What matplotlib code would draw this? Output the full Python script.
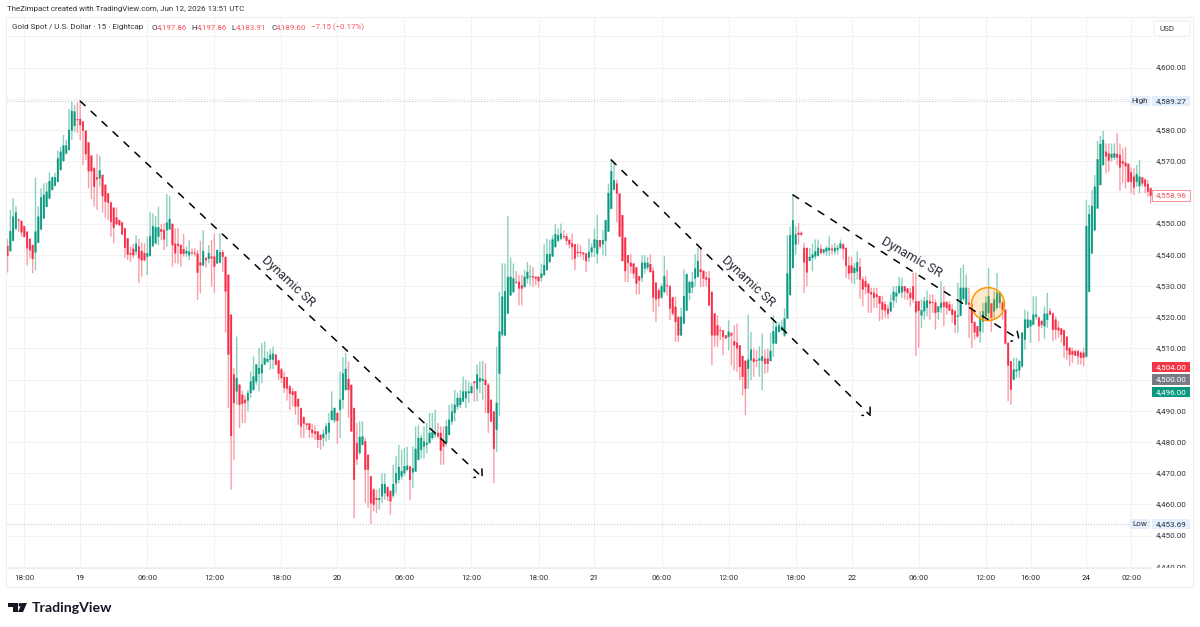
import numpy as np
import matplotlib
matplotlib.use("Agg")
import matplotlib.pyplot as plt
from matplotlib.patches import Ellipse, Polygon, Rectangle, Circle, FancyBboxPatch

# 15-minute gold candles, in bar order
opens = [
4542.8,4541.2,4544.5,4548.4,4551.2,4550.8,4549.2,4547.4,4545.1,4543.1,
4540.8,4543.9,4548.2,4551.7,4555.4,4558.1,4560.8,4562.1,4563.4,4567.2,
4570.1,4572.5,4573.6,4579.8,4581.3,4583.4,4583.5,4582.7,4579.8,4576.0,
4571.8,4567.7,4564.8,4564.5,4565.6,4562.4,4559.7,4556.7,4555.1,4551.9,
4551.1,4550.4,4548.5,4545.3,4540.5,4541.9,4541.0,4542.6,4541.2,4540.5,
4539.4,4539.7,4542.8,4543.7,4545.8,4548.2,4547.9,4547.9,4548.2,4549.9,
4543.5,4543.5,4543.1,4541.8,4540.5,4539.9,4540.7,4540.6,4540.3,4537.5,
4536.7,4538.9,4538.7,4539.4,4539.4,4537.3,4537.5,4540.8,4539.3,4533.6,
4520.8,4501.6,4496.2,4498.3,4495.1,4493.5,4493.3,4495.7,4496.7,4499.4,
4501.9,4502.1,4504.8,4505.8,4506.4,4506.4,4508.0,4506.1,4503.2,4500.8,
4500.8,4497.8,4496.2,4496.2,4493.8,4490.9,4487.9,4485.9,4485.9,4483.9,
4483.4,4483.4,4482.3,4481.3,4482.6,4483.1,4487.1,4486.9,4489.3,4490.3,
4493.5,4496.7,4500.2,4498.3,4490.9,4479.7,4476.5,4479.1,4480.2,4475.9,
4469.0,4464.7,4462.0,4461.5,4462.6,4463.6,4465.5,4464.2,4462.8,4466.8,
4467.9,4469.0,4470.0,4471.1,4472.2,4470.3,4470.6,4474.3,4477.5,4478.6,
4479.1,4479.7,4481.3,4482.3,4482.9,4482.9,4480.2,4479.7,4482.3,4486.6,
4489.3,4491.4,4491.9,4493.0,4494.1,4495.7,4495.7,4499.4,4497.0,4499.4,
4499.6,4499.9,4498.3,4493.5,4489.8,4483.9,4501.9,4514.4,4514.2,4521.2,
4527.0,4528.1,4531.3,4531.3,4530.2,4529.7,4532.4,4532.9,4533.1,4532.9,
4532.9,4532.7,4533.5,4535.1,4537.7,4539.5,4542.5,4544.5,4545.2,4545.9,
4545.9,4544.7,4543.6,4543.4,4540.9,4540.9,4540.6,4540.4,4539.1,4540.9,
4542.3,4540.4,4544.7,4543.4,4544.5,4547.5,4554.8,4560.9,4562.8,4559.6,
4552.7,4545.5,4539.9,4537.4,4537.2,4535.9,4533.1,4532.6,4535.6,4535.9,
4537.0,4534.8,4531.0,4528.6,4526.3,4528.1,4530.2,4529.9,4526.3,4523.3,
4520.1,4514.2,4518.0,4522.2,4527.8,4529.5,4532.4,4532.9,4535.3,4534.8,
4532.7,4532.4,4528.1,4521.2,4517.4,4515.8,4515.8,4514.2,4513.7,4514.8,
4512.3,4511.8,4511.0,4507.5,4506.0,4503.5,4506.2,4506.7,4506.2,4506.2,
4506.0,4506.7,4506.7,4506.0,4511.6,4511.6,4515.3,4515.8,4514.2,4519.6,
4527.1,4535.8,4543.3,4547.0,4547.0,4542.2,4542.2,4538.1,4539.0,4539.5,
4539.7,4541.9,4540.8,4541.1,4541.5,4541.9,4541.1,4541.7,4542.2,4543.3,
4542.2,4536.5,4536.5,4534.2,4534.7,4536.1,4532.1,4531.5,4530.5,4528.0,
4527.8,4527.3,4526.7,4524.8,4524.1,4522.7,4521.9,4525.4,4526.7,4527.8,
4528.0,4529.9,4529.1,4527.8,4529.9,4525.1,4525.1,4520.6,4521.9,4523.0,
4525.1,4524.8,4524.6,4521.7,4523.0,4524.8,4524.8,4524.1,4522.4,4521.9,
4520.1,4520.5,4525.9,4524.1,4524.6,4524.1,4518.4,4517.1,4515.5,4518.7,
4520.3,4521.4,4524.4,4521.9,4523.0,4524.6,4524.6,4522.4,4511.8,4505.9,
4500.0,4502.7,4503.0,4504.3,4512.8,4516.6,4517.1,4517.6,4520.1,4519.8,
4518.7,4517.1,4519.2,4521.9,4521.2,4519.2,4516.6,4516.3,4515.8,4513.7,
4510.2,4509.1,4509.1,4509.1,4508.6,4508.6,4507.4,4528.2,4540.5,4547.9,
4554.9,4562.4,4568.8,4573.0,4572.5,4571.1,4571.2,4572.3,4572.0,4570.0,
4569.5,4569.1,4566.4,4565.0,4563.4,4562.0,4564.8,4564.0,4562.7,4561.3]

highs = [
4545.0,4554.4,4558.1,4555.6,4551.7,4551.0,4549.2,4547.4,4545.1,4543.3,
4564.8,4555.6,4561.3,4562.9,4563.1,4566.4,4565.0,4566.3,4573.4,4574.6,
4578.4,4576.8,4586.7,4589.1,4588.0,4588.8,4589.27,4582.7,4579.8,4576.0,
4571.8,4568.2,4572.3,4571.8,4565.6,4562.4,4559.7,4557.0,4555.1,4555.2,
4551.3,4550.6,4548.5,4545.3,4542.6,4543.5,4546.3,4545.1,4544.0,4543.7,
4545.8,4553.8,4553.3,4552.4,4555.4,4549.9,4550.1,4559.5,4558.8,4549.9,
4548.5,4548.5,4543.5,4546.7,4542.6,4544.7,4542.1,4542.1,4541.5,4544.5,
4547.9,4539.4,4543.1,4544.7,4546.7,4541.7,4546.9,4541.5,4539.4,4533.6,
4520.8,4503.7,4513.8,4498.6,4496.4,4495.1,4496.7,4502.6,4507.4,4505.0,
4510.1,4511.7,4512.2,4509.0,4509.8,4510.6,4508.0,4506.4,4503.7,4502.6,
4500.8,4498.3,4497.3,4496.2,4493.8,4490.9,4488.2,4486.1,4486.1,4485.9,
4485.5,4483.4,4482.3,4484.1,4486.1,4489.3,4496.2,4491.0,4489.3,4502.6,
4507.2,4508.5,4505.8,4498.3,4490.9,4486.1,4486.6,4486.6,4481.3,4475.9,
4469.0,4465.2,4464.7,4465.2,4470.0,4470.0,4465.8,4464.7,4472.7,4475.4,
4479.1,4477.5,4478.1,4478.4,4472.2,4478.6,4485.0,4485.5,4482.3,4485.0,
4486.1,4489.3,4489.3,4490.3,4486.1,4485.0,4485.0,4487.1,4491.9,4492.3,
4496.7,4495.7,4496.7,4501.0,4499.9,4499.4,4498.9,4499.4,4504.8,4505.8,
4506.0,4505.3,4498.9,4493.5,4489.8,4510.6,4528.2,4537.3,4537.2,4552.4,
4539.1,4537.2,4534.8,4533.5,4533.5,4535.1,4537.7,4536.7,4536.1,4533.1,
4533.1,4537.2,4543.3,4545.2,4544.9,4546.3,4549.8,4548.4,4550.0,4547.9,
4546.8,4545.2,4546.8,4543.4,4543.6,4543.1,4540.9,4540.4,4545.2,4543.6,
4548.4,4552.9,4544.7,4547.9,4551.3,4562.8,4570.8,4569.8,4564.1,4559.6,
4552.7,4545.5,4539.9,4540.2,4537.2,4536.1,4533.1,4539.9,4539.9,4539.3,
4540.2,4535.9,4531.3,4529.2,4530.8,4539.5,4535.1,4530.2,4526.5,4526.5,
4520.1,4523.1,4535.3,4534.0,4531.5,4534.5,4540.2,4542.3,4542.5,4535.1,
4534.5,4534.8,4528.1,4521.2,4520.6,4516.9,4515.8,4514.2,4519.0,4515.3,
4517.4,4518.0,4511.0,4507.8,4506.2,4520.8,4515.3,4510.0,4509.4,4510.7,
4514.8,4509.6,4510.0,4515.0,4520.6,4518.5,4518.5,4519.0,4522.8,4546.2,
4549.0,4559.3,4549.1,4550.2,4547.5,4543.8,4542.2,4542.2,4543.6,4544.9,
4544.9,4543.3,4541.9,4542.7,4545.9,4543.3,4543.8,4543.3,4544.9,4543.8,
4542.2,4539.5,4539.3,4537.4,4541.1,4539.0,4533.1,4533.1,4531.0,4529.4,
4529.4,4529.4,4526.9,4526.9,4525.1,4524.1,4527.3,4529.9,4530.1,4532.9,
4532.6,4529.9,4529.4,4529.4,4534.2,4534.2,4525.1,4525.7,4526.5,4528.6,
4527.3,4527.3,4525.7,4523.5,4531.5,4529.9,4525.1,4525.1,4524.1,4522.4,
4531.0,4535.8,4536.9,4533.7,4529.4,4524.6,4518.7,4517.1,4521.9,4524.6,
4526.7,4535.8,4524.6,4528.3,4534.2,4528.3,4525.4,4522.4,4511.8,4505.9,
4507.0,4507.0,4506.4,4515.2,4522.4,4521.9,4519.3,4526.7,4526.7,4520.3,
4519.2,4523.5,4527.8,4523.0,4521.4,4520.3,4518.7,4516.6,4516.0,4513.9,
4510.2,4510.2,4509.6,4509.6,4509.1,4510.2,4557.6,4556.0,4560.8,4565.6,
4576.5,4578.1,4579.7,4575.7,4575.7,4575.7,4575.7,4579.1,4575.7,4574.1,
4574.6,4569.3,4568.0,4567.7,4568.8,4570.4,4565.0,4564.5,4564.0,4561.6]

lows = [
4534.3,4541.0,4544.3,4547.9,4547.4,4545.8,4545.5,4536.5,4538.9,4534.1,
4535.1,4543.7,4547.9,4551.5,4555.2,4557.8,4560.6,4562.0,4563.2,4567.0,
4569.8,4572.2,4573.4,4576.8,4579.4,4579.1,4576.8,4568.8,4570.4,4561.3,
4557.9,4555.4,4554.4,4561.8,4553.5,4551.7,4551.1,4545.8,4543.7,4549.5,
4549.3,4546.3,4538.9,4538.3,4537.8,4538.9,4539.9,4530.9,4533.0,4537.8,
4533.5,4539.4,4542.6,4543.4,4543.1,4544.7,4541.5,4542.6,4547.9,4536.2,
4537.3,4537.1,4536.2,4539.4,4539.4,4538.3,4539.9,4539.4,4525.5,4527.7,
4536.2,4535.9,4537.3,4529.8,4527.7,4537.1,4537.3,4534.6,4515.1,4490.9,
4464.7,4474.3,4491.9,4484.5,4486.1,4486.1,4489.8,4494.1,4496.5,4498.3,
4496.2,4498.9,4504.6,4505.3,4503.2,4503.4,4504.6,4499.9,4498.9,4495.7,
4493.3,4490.3,4491.4,4488.7,4485.5,4481.3,4481.3,4483.9,4481.3,4481.3,
4480.7,4478.1,4477.5,4478.6,4480.2,4480.7,4486.9,4486.1,4479.4,4481.3,
4490.6,4496.5,4487.7,4483.4,4455.6,4472.7,4475.9,4478.9,4460.4,4458.8,
4453.69,4457.8,4457.2,4458.3,4460.4,4461.5,4461.0,4456.7,4462.0,4463.6,
4466.8,4467.9,4469.0,4470.6,4461.3,4465.2,4470.4,4474.1,4474.8,4474.8,
4476.5,4479.5,4480.7,4481.3,4481.3,4472.7,4472.7,4478.6,4482.1,4485.5,
4486.6,4490.3,4490.9,4492.8,4490.9,4492.5,4495.5,4493.0,4493.0,4495.7,
4493.5,4489.3,4482.9,4486.4,4466.8,4476.8,4488.2,4513.8,4514.0,4521.0,
4526.8,4527.6,4530.6,4523.8,4523.8,4529.5,4530.8,4530.2,4529.7,4530.2,
4529.5,4531.3,4533.3,4534.9,4537.5,4539.3,4542.3,4544.1,4544.7,4545.2,
4543.1,4542.0,4538.3,4535.1,4539.3,4539.3,4538.3,4534.5,4537.7,4539.3,
4539.3,4537.2,4542.0,4539.9,4539.5,4547.3,4554.6,4560.7,4550.5,4545.7,
4538.0,4531.3,4531.3,4534.0,4532.4,4527.3,4527.3,4531.3,4534.0,4535.1,
4534.3,4521.7,4518.5,4523.3,4526.0,4527.6,4527.0,4519.0,4520.6,4512.1,
4512.1,4514.0,4517.8,4522.0,4525.4,4527.6,4529.7,4532.7,4529.7,4529.7,
4529.9,4523.6,4504.6,4510.5,4510.5,4512.6,4507.8,4513.2,4509.4,4504.6,
4503.0,4502.5,4499.8,4495.0,4488.6,4497.1,4499.8,4500.9,4504.1,4500.9,
4496.6,4501.9,4502.2,4505.8,4507.3,4511.4,4515.1,4515.6,4513.7,4519.4,
4527.0,4535.6,4540.1,4543.3,4546.0,4527.8,4529.9,4537.9,4534.7,4538.5,
4539.5,4540.1,4540.1,4539.7,4539.7,4540.1,4540.1,4540.1,4541.7,4538.5,
4532.6,4532.1,4531.0,4530.5,4532.1,4525.9,4523.5,4527.3,4521.4,4521.4,
4523.0,4523.0,4518.7,4519.2,4519.8,4519.5,4521.7,4523.0,4524.6,4527.3,
4526.2,4525.7,4525.4,4523.5,4524.6,4507.5,4510.2,4516.6,4519.2,4520.3,
4519.2,4521.4,4516.0,4519.2,4521.4,4517.1,4520.8,4521.9,4518.2,4515.0,
4515.0,4520.3,4525.1,4523.9,4513.4,4510.2,4512.8,4513.4,4511.8,4515.0,
4520.1,4519.2,4515.2,4519.2,4522.4,4523.0,4519.2,4511.2,4493.1,4491.9,
4499.8,4500.6,4500.6,4503.8,4509.6,4516.4,4511.8,4517.4,4519.2,4512.3,
4516.6,4513.1,4516.6,4520.8,4512.3,4512.8,4513.4,4511.8,4507.0,4506.4,
4504.3,4505.4,4507.5,4504.8,4504.8,4504.3,4507.0,4528.0,4540.3,4547.7,
4554.7,4562.2,4568.6,4566.1,4566.6,4569.8,4570.4,4568.8,4560.5,4562.9,
4561.3,4563.2,4559.7,4559.2,4561.8,4559.7,4562.0,4559.7,4558.6,4556.5]

closes = [
4539.7,4547.6,4552.2,4553.6,4550.9,4547.2,4545.8,4542.1,4541.5,4538.7,
4547.4,4552.2,4558.4,4559.2,4560.2,4563.6,4564.8,4564.8,4570.9,4573.0,
4575.0,4575.0,4580.0,4586.1,4585.9,4583.2,4581.6,4579.8,4572.3,4566.8,
4566.8,4561.8,4564.2,4567.0,4558.8,4557.0,4556.7,4550.6,4548.7,4549.8,
4549.5,4546.6,4542.3,4540.1,4540.1,4539.9,4543.5,4538.9,4538.3,4538.3,
4540.5,4546.0,4549.2,4548.8,4548.8,4547.4,4545.0,4550.3,4551.4,4543.1,
4540.5,4542.9,4540.3,4540.3,4541.2,4541.0,4540.5,4540.4,4534.3,4536.6,
4541.2,4538.3,4540.5,4538.9,4536.2,4541.5,4540.8,4539.4,4528.3,4508.0,
4482.0,4492.5,4500.5,4491.9,4492.3,4492.5,4495.7,4499.4,4501.0,4504.8,
4503.7,4504.8,4506.9,4506.6,4508.0,4508.3,4504.8,4501.9,4500.5,4497.3,
4497.1,4495.5,4495.1,4491.4,4491.4,4485.0,4485.9,4485.5,4483.9,4482.9,
4482.6,4480.7,4480.7,4482.6,4485.0,4486.1,4490.0,4490.9,4486.8,4493.5,
4501.9,4503.4,4496.7,4483.4,4467.9,4474.5,4481.6,4481.8,4471.1,4471.1,
4460.4,4459.9,4461.5,4462.0,4466.5,4466.5,4462.6,4461.0,4466.5,4470.0,
4472.0,4470.6,4472.2,4472.4,4467.9,4471.6,4477.8,4481.3,4481.3,4480.2,
4479.7,4482.9,4483.1,4483.1,4481.8,4477.2,4478.6,4485.0,4487.1,4489.8,
4491.9,4494.1,4494.1,4496.2,4496.2,4496.2,4497.8,4498.9,4501.6,4500.5,
4500.2,4498.3,4489.3,4486.6,4477.8,4492.5,4515.4,4526.6,4528.3,4532.9,
4532.9,4532.4,4531.1,4529.2,4529.2,4532.9,4534.5,4533.1,4532.7,4532.4,
4531.6,4534.0,4536.7,4540.2,4540.2,4544.9,4546.6,4546.3,4546.8,4545.7,
4544.5,4543.4,4542.5,4538.8,4540.6,4540.6,4540.2,4538.0,4540.9,4542.3,
4544.9,4544.7,4542.7,4544.7,4551.1,4559.8,4566.8,4563.9,4559.6,4545.9,
4538.0,4534.8,4537.4,4536.3,4534.0,4530.8,4531.8,4537.4,4537.4,4537.4,
4534.5,4526.3,4525.8,4526.0,4529.9,4533.1,4530.0,4522.8,4521.2,4518.5,
4514.2,4520.1,4526.7,4533.8,4531.3,4531.3,4535.6,4538.0,4534.5,4532.4,
4532.1,4523.8,4514.2,4514.2,4514.2,4515.6,4513.7,4513.2,4515.3,4514.2,
4511.0,4510.0,4504.1,4500.9,4497.1,4506.4,4509.6,4505.7,4506.0,4506.7,
4507.5,4505.1,4505.1,4509.2,4515.5,4516.9,4517.4,4516.9,4519.6,4534.0,
4546.3,4551.1,4546.5,4546.5,4546.5,4537.6,4534.4,4539.3,4540.1,4541.1,
4542.2,4540.6,4541.7,4542.2,4542.2,4541.5,4542.2,4542.2,4543.6,4541.9,
4536.5,4534.0,4534.2,4535.8,4537.6,4532.1,4528.9,4529.7,4527.8,4527.3,
4526.2,4526.5,4524.4,4522.4,4522.2,4521.1,4524.8,4528.1,4527.8,4529.9,
4529.9,4528.3,4527.8,4526.2,4525.7,4521.6,4522.1,4522.2,4525.1,4525.4,
4524.4,4524.6,4521.4,4523.5,4524.6,4523.3,4523.0,4522.2,4520.8,4517.6,
4520.5,4529.4,4529.4,4529.4,4524.1,4518.2,4515.2,4513.9,4519.8,4521.9,
4524.6,4526.7,4519.8,4525.7,4527.8,4527.8,4522.4,4511.6,4504.5,4496.8,
4503.2,4503.2,4505.9,4515.0,4519.2,4519.2,4519.0,4520.8,4520.8,4517.1,
4517.6,4521.1,4521.1,4520.8,4516.0,4516.0,4515.8,4514.4,4510.9,4509.4,
4508.0,4508.0,4507.7,4507.5,4507.0,4507.0,4549.2,4553.0,4555.6,4561.8,
4570.6,4575.5,4576.8,4571.6,4570.2,4572.3,4572.5,4571.2,4568.0,4569.3,
4568.4,4563.4,4563.4,4561.6,4565.8,4565.0,4562.9,4562.0,4560.2,4558.96]

# Time axis: bar index and label
time_ticks = [6, 26, 50, 74, 98, 118, 142, 166, 190, 210, 234, 258, 282, 302,
              326, 350, 366, 386, 402]
time_labels = ["18:00", "19", "06:00", "12:00", "18:00", "20", "06:00", "12:00",
               "18:00", "21", "06:00", "12:00", "18:00", "22", "06:00", "12:00",
               "16:00", "24", "02:00"]

price_ticks = [4600, 4590, 4580, 4570, 4560, 4550, 4540, 4530, 4520, 4510, 4490,
               4480, 4470, 4460, 4450, 4440]
grid_prices = list(range(4440, 4620, 10))

high_price = 4589.27
low_price = 4453.69
last_price = 4558.96

# Drawn trend arrows: (start bar, start price, end bar, end price)
trend_arrows = [(26, 4589.27, 170.1, 4468.5),
                (216, 4570.4, 308.9, 4488.3),
                (281, 4559.2, 362.2, 4512.7)]
trend_notes = [(100.3, 4531.6, -43), (265.0, 4531.6, -43), (323.6, 4539.3, -30)]

UP = "#089981"
DOWN = "#f92a45"
UP_WICK = "#8ad0bc"
DOWN_WICK = "#f99ea9"
GRID = "#f1f2f4"
FRAME = "#eceef0"
TEXT = "#2f323b"
FONT = "Roboto"
SMALL = 5.8

W, H = 1200, 627
plt.rcParams["font.family"] = [FONT, "DejaVu Sans"]
fig = plt.figure(figsize=(W / 100, H / 100), dpi=100, facecolor="white")


def px_rect(x0, y0, x1, y1):
    return [x0 / W, 1 - y1 / H, (x1 - x0) / W, (y1 - y0) / H]


def fx(x):
    return x / W


def fy(y):
    return 1 - y / H


BAR_PX = 2.795
PRICE_PX = 3.12
LEFT, RIGHT, TOP, BOTTOM = 6.5, 1151.5, 17.0, 568.0
ylim = (4580 - (BOTTOM - 130) / PRICE_PX, 4580 + (130 - TOP) / PRICE_PX)
xlim = ((LEFT - 7.53) / BAR_PX, (RIGHT - 7.53) / BAR_PX)

ax = fig.add_axes(px_rect(LEFT, TOP, RIGHT, BOTTOM))
ax.set_xlim(xlim)
ax.set_ylim(ylim)
for s in ax.spines.values():
    s.set_visible(False)
ax.tick_params(left=False, bottom=False, labelleft=False, labelbottom=False)
ax.set_xticks(time_ticks)
ax.set_yticks(grid_prices)
ax.grid(True, color=GRID, lw=0.75)
ax.set_axisbelow(True)

o = np.array(opens)
h = np.array(highs)
l = np.array(lows)
c = np.array(closes)
k = np.arange(len(c))
rising = c >= o

ax.vlines(k[rising], l[rising], h[rising], color=UP_WICK, lw=1.0, zorder=2, snap=False)
ax.vlines(k[~rising], l[~rising], h[~rising], color=DOWN_WICK, lw=1.0, zorder=2, snap=False)
ax.bar(k[rising], (c - o)[rising], bottom=o[rising], width=0.6,
       color=UP, edgecolor=UP, linewidth=0.2, zorder=3, snap=False)
ax.bar(k[~rising], (o - c)[~rising], bottom=c[~rising], width=0.6,
       color=DOWN, edgecolor=DOWN, linewidth=0.2, zorder=3, snap=False)

# High and low of the visible range
ax.plot([xlim[0], (1130 - 7.53) / BAR_PX], [high_price, high_price],
        color="#c4c6cc", lw=0.8, ls=(0, (1, 1.6)), zorder=1)
ax.plot([xlim[0], (1130 - 7.53) / BAR_PX], [low_price, low_price],
        color="#c4c6cc", lw=0.8, ls=(0, (1, 1.6)), zorder=1)

# Dashed trend arrows and their notes
DASH = (0, (4.4, 5.4))
for x0, y0, x1, y1 in trend_arrows:
    ax.annotate("", xy=(x1, y1), xytext=(x0, y0), zorder=5,
                arrowprops=dict(arrowstyle="->,head_length=0.42,head_width=0.42",
                                color="black", lw=1.1, ls=DASH,
                                shrinkA=0, shrinkB=0, mutation_scale=10))
for x, y, ang in trend_notes:
    ax.text(x, y, "Dynamic SR", rotation=ang, rotation_mode="anchor",
            ha="center", va="center", fontsize=9.2, color="#2a2e39", zorder=5)

# Highlighted zone
ax.add_patch(Ellipse((350.8, 4524.2), 33 / BAR_PX, 33 / PRICE_PX,
                     facecolor="#ff9800", alpha=0.2, edgecolor="none", zorder=4))
ax.add_patch(Ellipse((350.8, 4524.2), 33 / BAR_PX, 33 / PRICE_PX,
                     facecolor="none", edgecolor="#ff9800", lw=1.1, zorder=4))

# Outer frame and axis separator
fig.add_artist(Rectangle((fx(6), fy(587)), (1193 - 6) / W, (587 - 17) / H,
                         transform=fig.transFigure, fill=False,
                         edgecolor=FRAME, lw=0.8))
fig.add_artist(plt.Line2D([fx(6), fx(1151.5)], [fy(568), fy(568)],
                          transform=fig.transFigure, color=FRAME, lw=0.8))

# Price scale, clipped to the pane height
scale = fig.add_axes(px_rect(RIGHT, TOP, 1193, BOTTOM))
scale.set_xlim(RIGHT, 1193)
scale.set_ylim(ylim)
scale.axis("off")
for p in price_ticks:
    scale.text(1187, p, f"{p:,.2f}", ha="right", va="center", fontsize=SMALL,
               color=TEXT, clip_on=True)


def tag(y_price, txt, face, tc, edge="none"):
    scale.add_patch(Rectangle((1151.5, y_price - 1.67), 38.5, 3.34, facecolor=face,
                              edgecolor=edge, lw=0.8, zorder=4))
    scale.text(1187, y_price, txt, ha="right", va="center", fontsize=SMALL,
               color=tc, zorder=5)


tag(high_price, f"{high_price:,.2f}", "#e3effd", TEXT)
tag(low_price, f"{low_price:,.2f}", "#e3effd", TEXT)
tag(last_price, f"{last_price:,.2f}", "white", "#f4505f", edge="#f79aa4")
tag(4504.0, "4,504.00", "#f23645", "white")
tag(4500.0, "4,500.00", "#787b86", "white")
tag(4496.0, "4,496.00", UP, "white")

# Currency button above the scale
fig.add_artist(FancyBboxPatch((fx(1154), fy(36.5)), 36 / W, 15.5 / H,
                              boxstyle="round,pad=0,rounding_size=0.002",
                              transform=fig.transFigure, facecolor="white",
                              edgecolor=FRAME, lw=0.8))
fig.text(fx(1159), fy(29), "USD", fontsize=SMALL, color=TEXT, va="center")

# High / Low captions sit at the end of their dotted lines
for price, word in [(high_price, "High"), (low_price, "Low")]:
    x0, x1 = 1129.5, 1150.0
    ax.add_patch(Rectangle(((x0 - 7.53) / BAR_PX, price - 1.67),
                           (x1 - x0) / BAR_PX, 3.34, facecolor="#e3effd",
                           edgecolor="none", zorder=6))
    ax.text(((x0 + x1) / 2 - 7.53) / BAR_PX, price, word, ha="center", va="center",
            fontsize=SMALL, color=TEXT, zorder=7)

# Time labels
for tk, lab in zip(time_ticks, time_labels):
    day = ":" not in lab
    fig.text(fx(7.53 + BAR_PX * tk), fy(578), lab, ha="center", va="center",
             fontsize=SMALL, color="#131722" if day else TEXT)

# Header lines
fig.text(fx(7), fy(9.5), "TheZimpact created with TradingView.com, Jun 12, 2026 13:51 UTC",
         fontsize=5.65, color=TEXT, va="center")
fig.text(fx(12), fy(27.5), "Gold Spot / U.S. Dollar \u00b7 15 \u00b7 Eightcap",
         fontsize=5.8, color=TEXT, va="center")
RED_TXT = "#f7525f"
for x, txt, col in [(151, "O", TEXT), (157, "4,197.86", RED_TXT),
                    (191, "H", TEXT), (197, "4,197.86", RED_TXT),
                    (231.5, "L", TEXT), (236, "4,183.91", RED_TXT),
                    (271, "C", TEXT), (276, "4,189.60", RED_TXT),
                    (311, "\u22127.15 (\u22120.17%)", RED_TXT)]:
    fig.text(fx(x), fy(27.5), txt, fontsize=5.7, color=col, va="center")

# Wordmark
k_col = "#131722"
fig.add_artist(Polygon([(fx(8), fy(603)), (fx(17.5), fy(603)), (fx(17.5), fy(612)),
                        (fx(12.5), fy(612)), (fx(12.5), fy(606.5)), (fx(8), fy(606.5))],
                       closed=True, transform=fig.transFigure, color=k_col, lw=0))
fig.add_artist(Polygon([(fx(22), fy(603)), (fx(27), fy(603)), (fx(23), fy(612)),
                        (fx(18), fy(612))],
                       closed=True, transform=fig.transFigure, color=k_col, lw=0))
logo_ax = fig.add_axes([0, 0, 1, 1], facecolor="none")
logo_ax.set_xlim(0, W)
logo_ax.set_ylim(H, 0)
logo_ax.axis("off")
logo_ax.add_patch(Circle((20.3, 604.8), 1.8, color=k_col, lw=0))
fig.text(fx(32), fy(607.5), "TradingView", fontsize=10.2, color=k_col,
         va="center", family=["Lato", "DejaVu Sans"], fontweight="bold")

fig.savefig("out.png", dpi=100, facecolor="white")
